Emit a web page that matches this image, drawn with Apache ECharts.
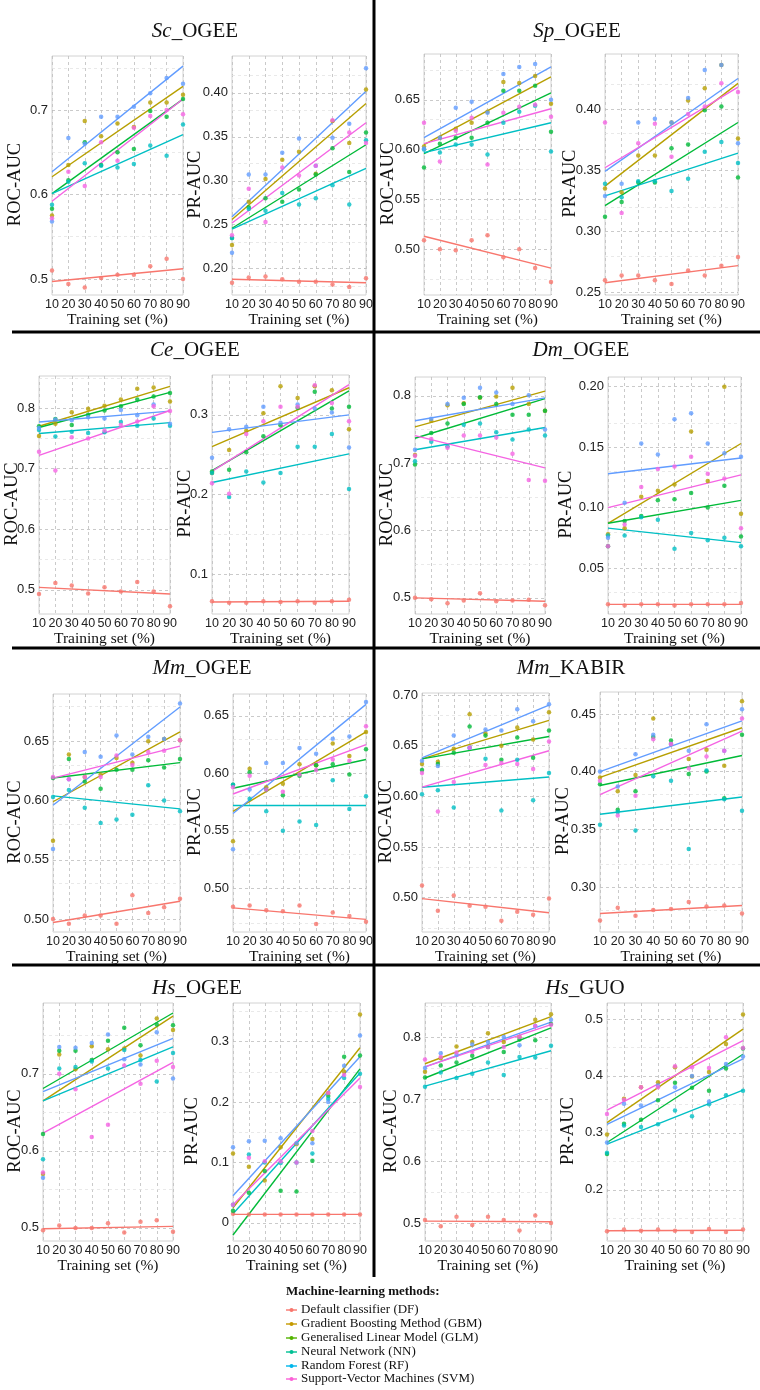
<!DOCTYPE html>
<html><head><meta charset="utf-8">
<script src="https://cdn.jsdelivr.net/npm/echarts@6/dist/echarts.min.js"></script>
<style>html,body{margin:0;padding:0;background:#fff}#c{width:760px;height:1390px}</style>
</head><body><div id="c"></div>
<script>
const xValues = [10, 20, 30, 40, 50, 60, 70, 80, 90];
const methods = ['Default classifier (DF)', 'Gradient Boosting Method (GBM)', 'Generalised Linear Model (GLM)', 'Neural Network (NN)', 'Random Forest (RF)', 'Support-Vector Machines (SVM)'];
const seriesColors = ['#F8766D', '#B79F00', '#00BA38', '#00BFC4', '#619CFF', '#F564E3'];
const legendColors = ['#F8766D', '#C49A00', '#53B400', '#00C094', '#00B6EB', '#FB61D7'];

// rows: DF, GBM, GLM, NN, RF, SVM ; fits: value at 10 and at 90
const sc_roc = [
  [0.510, 0.494, 0.490, 0.501, 0.505, 0.505, 0.515, 0.524, 0.500],
  [0.575, 0.635, 0.687, 0.669, 0.684, 0.680, 0.709, 0.709, 0.718],
  [0.583, 0.617, 0.662, 0.635, 0.650, 0.654, 0.699, 0.692, 0.713],
  [0.588, 0.615, 0.637, 0.634, 0.632, 0.636, 0.658, 0.646, 0.683],
  [0.568, 0.667, 0.660, 0.692, 0.692, 0.704, 0.720, 0.738, 0.731],
  [0.572, 0.627, 0.610, 0.662, 0.640, 0.679, 0.693, 0.700, 0.695]];
const sc_roc_fit = [[0.497, 0.512], [0.621, 0.728], [0.601, 0.713], [0.601, 0.671], [0.627, 0.752], [0.592, 0.713]];
const sc_roc_ticks = ['0.5', '0.6', '0.7'];

const sc_pr = [
  [0.184, 0.190, 0.191, 0.188, 0.185, 0.185, 0.182, 0.179, 0.189],
  [0.227, 0.276, 0.302, 0.324, 0.333, 0.308, 0.368, 0.343, 0.404],
  [0.235, 0.270, 0.280, 0.276, 0.290, 0.307, 0.337, 0.310, 0.355],
  [0.235, 0.268, 0.266, 0.286, 0.273, 0.280, 0.295, 0.273, 0.346],
  [0.218, 0.307, 0.307, 0.332, 0.348, 0.317, 0.349, 0.365, 0.428],
  [0.238, 0.291, 0.253, 0.315, 0.306, 0.317, 0.369, 0.355, 0.343]];
const sc_pr_fit = [[0.188, 0.184], [0.256, 0.388], [0.246, 0.341], [0.245, 0.314], [0.259, 0.402], [0.252, 0.366]];
const sc_pr_ticks = ['0.20', '0.25', '0.30', '0.35', '0.40'];

const sp_roc = [
  [0.509, 0.500, 0.499, 0.509, 0.514, 0.492, 0.500, 0.481, 0.467],
  [0.603, 0.612, 0.621, 0.627, 0.638, 0.668, 0.667, 0.674, 0.646],
  [0.582, 0.606, 0.612, 0.612, 0.627, 0.659, 0.659, 0.664, 0.618],
  [0.600, 0.597, 0.605, 0.605, 0.595, 0.627, 0.638, 0.644, 0.598],
  [0.601, 0.612, 0.642, 0.648, 0.637, 0.676, 0.683, 0.686, 0.650],
  [0.627, 0.588, 0.619, 0.632, 0.585, 0.637, 0.643, 0.645, 0.633]];
const sp_roc_fit = [[0.513, 0.481], [0.605, 0.673], [0.596, 0.657], [0.597, 0.627], [0.612, 0.683], [0.606, 0.641]];
const sp_roc_ticks = ['0.50', '0.55', '0.60', '0.65'];

const sp_pr = [
  [0.260, 0.264, 0.264, 0.260, 0.257, 0.268, 0.264, 0.272, 0.279],
  [0.335, 0.332, 0.362, 0.362, 0.389, 0.407, 0.417, 0.436, 0.376],
  [0.312, 0.324, 0.340, 0.340, 0.368, 0.371, 0.399, 0.402, 0.344],
  [0.339, 0.328, 0.341, 0.341, 0.333, 0.343, 0.365, 0.373, 0.356],
  [0.329, 0.339, 0.389, 0.392, 0.389, 0.409, 0.432, 0.436, 0.372],
  [0.389, 0.315, 0.372, 0.388, 0.361, 0.396, 0.402, 0.421, 0.414]];
const sp_pr_fit = [[0.258, 0.272], [0.337, 0.421], [0.321, 0.389], [0.329, 0.364], [0.349, 0.425], [0.352, 0.418]];
const sp_pr_ticks = ['0.25', '0.30', '0.35', '0.40'];

const ce_roc = [
  [0.493, 0.511, 0.507, 0.494, 0.504, 0.497, 0.513, 0.497, 0.473],
  [0.754, 0.774, 0.793, 0.799, 0.804, 0.814, 0.832, 0.834, 0.811],
  [0.770, 0.782, 0.772, 0.789, 0.796, 0.803, 0.814, 0.819, 0.825],
  [0.764, 0.753, 0.761, 0.759, 0.760, 0.777, 0.771, 0.783, 0.771],
  [0.767, 0.781, 0.780, 0.785, 0.783, 0.797, 0.788, 0.806, 0.774],
  [0.728, 0.697, 0.752, 0.750, 0.763, 0.772, 0.778, 0.803, 0.795]];
const ce_roc_fit = [[0.504, 0.493], [0.770, 0.836], [0.768, 0.826], [0.758, 0.776], [0.777, 0.795], [0.722, 0.796]];
const ce_roc_ticks = ['0.5', '0.6', '0.7', '0.8'];

const ce_pr = [
  [0.066, 0.064, 0.064, 0.066, 0.065, 0.066, 0.064, 0.066, 0.068],
  [0.227, 0.256, 0.280, 0.302, 0.336, 0.321, 0.336, 0.331, 0.282],
  [0.229, 0.231, 0.253, 0.273, 0.287, 0.309, 0.329, 0.308, 0.310],
  [0.227, 0.197, 0.229, 0.215, 0.227, 0.260, 0.260, 0.276, 0.207],
  [0.246, 0.282, 0.285, 0.310, 0.290, 0.313, 0.308, 0.303, 0.259],
  [0.214, 0.201, 0.276, 0.292, 0.310, 0.310, 0.337, 0.315, 0.292]];
const ce_pr_fit = [[0.065, 0.066], [0.260, 0.334], [0.230, 0.330], [0.215, 0.251], [0.278, 0.300], [0.229, 0.338]];
const ce_pr_ticks = ['0.1', '0.2', '0.3'];

const dm_roc = [
  [0.500, 0.498, 0.492, 0.496, 0.507, 0.495, 0.496, 0.497, 0.489],
  [0.712, 0.763, 0.786, 0.789, 0.797, 0.799, 0.812, 0.788, 0.778],
  [0.698, 0.745, 0.759, 0.788, 0.798, 0.788, 0.772, 0.772, 0.778],
  [0.703, 0.732, 0.725, 0.757, 0.759, 0.746, 0.735, 0.750, 0.741],
  [0.720, 0.766, 0.788, 0.797, 0.812, 0.805, 0.788, 0.801, 0.750],
  [0.711, 0.736, 0.723, 0.741, 0.741, 0.738, 0.714, 0.675, 0.674]];
const dm_roc_fit = [[0.500, 0.495], [0.754, 0.807], [0.737, 0.796], [0.720, 0.753], [0.763, 0.797], [0.741, 0.693]];
const dm_roc_ticks = ['0.5', '0.6', '0.7', '0.8'];

const dm_pr = [
  [0.020, 0.019, 0.020, 0.020, 0.019, 0.020, 0.020, 0.020, 0.021],
  [0.078, 0.083, 0.109, 0.114, 0.119, 0.163, 0.122, 0.200, 0.095],
  [0.068, 0.089, 0.093, 0.106, 0.107, 0.112, 0.100, 0.118, 0.076],
  [0.077, 0.077, 0.092, 0.090, 0.066, 0.079, 0.073, 0.075, 0.068],
  [0.075, 0.104, 0.153, 0.144, 0.173, 0.178, 0.153, 0.145, 0.142],
  [0.068, 0.086, 0.117, 0.132, 0.134, 0.142, 0.128, 0.124, 0.083]];
const dm_pr_fit = [[0.020, 0.020], [0.087, 0.153], [0.087, 0.106], [0.083, 0.071], [0.128, 0.141], [0.100, 0.127]];
const dm_pr_ticks = ['0.05', '0.10', '0.15', '0.20'];

const mm_roc = [
  [0.500, 0.496, 0.503, 0.503, 0.496, 0.520, 0.505, 0.510, 0.517],
  [0.566, 0.639, 0.620, 0.622, 0.636, 0.632, 0.650, 0.652, 0.651],
  [0.619, 0.635, 0.616, 0.610, 0.626, 0.626, 0.634, 0.628, 0.635],
  [0.603, 0.609, 0.594, 0.581, 0.584, 0.588, 0.613, 0.600, 0.591],
  [0.559, 0.618, 0.641, 0.637, 0.655, 0.639, 0.654, 0.652, 0.682],
  [0.620, 0.618, 0.620, 0.620, 0.638, 0.630, 0.641, 0.642, 0.651]];
const mm_roc_fit = [[0.497, 0.515], [0.599, 0.658], [0.619, 0.632], [0.604, 0.593], [0.596, 0.679], [0.619, 0.646]];
const mm_roc_ticks = ['0.50', '0.55', '0.60', '0.65'];

const mm_pr = [
  [0.484, 0.485, 0.481, 0.480, 0.485, 0.469, 0.479, 0.476, 0.471],
  [0.541, 0.604, 0.588, 0.591, 0.608, 0.607, 0.626, 0.615, 0.636],
  [0.590, 0.601, 0.586, 0.581, 0.598, 0.607, 0.608, 0.599, 0.621],
  [0.590, 0.578, 0.567, 0.550, 0.558, 0.555, 0.594, 0.569, 0.580],
  [0.534, 0.586, 0.609, 0.609, 0.622, 0.617, 0.630, 0.632, 0.662],
  [0.588, 0.598, 0.586, 0.584, 0.599, 0.603, 0.612, 0.611, 0.641]];
const mm_pr_fit = [[0.483, 0.473], [0.567, 0.636], [0.587, 0.612], [0.572, 0.572], [0.565, 0.660], [0.582, 0.625]];
const mm_pr_ticks = ['0.50', '0.55', '0.60', '0.65'];

const mk_roc = [
  [0.512, 0.487, 0.502, 0.492, 0.491, 0.477, 0.486, 0.483, 0.499],
  [0.632, 0.634, 0.647, 0.681, 0.662, 0.650, 0.668, 0.656, 0.683],
  [0.626, 0.632, 0.643, 0.669, 0.660, 0.636, 0.658, 0.638, 0.665],
  [0.602, 0.606, 0.589, 0.648, 0.637, 0.586, 0.636, 0.596, 0.623],
  [0.635, 0.630, 0.660, 0.648, 0.666, 0.665, 0.686, 0.674, 0.691],
  [0.623, 0.585, 0.614, 0.648, 0.631, 0.633, 0.632, 0.627, 0.654]];
const mk_roc_fit = [[0.499, 0.485], [0.637, 0.675], [0.637, 0.659], [0.609, 0.619], [0.638, 0.690], [0.609, 0.645]];
const mk_roc_ticks = ['0.50', '0.55', '0.60', '0.65', '0.70'];

const mk_pr = [
  [0.271, 0.282, 0.275, 0.280, 0.281, 0.287, 0.283, 0.284, 0.277],
  [0.395, 0.383, 0.397, 0.446, 0.424, 0.411, 0.419, 0.405, 0.461],
  [0.389, 0.367, 0.383, 0.430, 0.427, 0.398, 0.400, 0.377, 0.432],
  [0.354, 0.365, 0.349, 0.396, 0.392, 0.333, 0.401, 0.376, 0.366],
  [0.400, 0.387, 0.415, 0.432, 0.424, 0.418, 0.441, 0.418, 0.454],
  [0.392, 0.362, 0.379, 0.428, 0.424, 0.403, 0.413, 0.418, 0.446]];
const mk_pr_fit = [[0.277, 0.284], [0.395, 0.438], [0.388, 0.414], [0.363, 0.378], [0.400, 0.444], [0.380, 0.435]];
const mk_pr_ticks = ['0.30', '0.35', '0.40', '0.45'];

const hs_roc = [
  [0.497, 0.503, 0.500, 0.500, 0.506, 0.494, 0.508, 0.510, 0.495],
  [0.570, 0.725, 0.706, 0.736, 0.732, 0.733, 0.724, 0.772, 0.757],
  [0.622, 0.730, 0.730, 0.718, 0.743, 0.760, 0.737, 0.764, 0.763],
  [0.589, 0.707, 0.709, 0.716, 0.707, 0.731, 0.718, 0.690, 0.727],
  [0.565, 0.735, 0.734, 0.740, 0.751, 0.719, 0.712, 0.754, 0.694],
  [0.572, 0.700, 0.680, 0.618, 0.634, 0.711, 0.687, 0.717, 0.709]];
const hs_roc_fit = [[0.499, 0.502], [0.665, 0.775], [0.681, 0.779], [0.665, 0.735], [0.677, 0.746], [0.623, 0.715]];
const hs_roc_ticks = ['0.5', '0.6', '0.7'];

const hs_pr = [
  [0.015, 0.014, 0.014, 0.014, 0.014, 0.014, 0.014, 0.014, 0.014],
  [0.115, 0.093, 0.070, 0.125, 0.130, 0.139, 0.215, 0.250, 0.345],
  [0.020, 0.050, 0.086, 0.053, 0.052, 0.103, 0.210, 0.275, 0.277],
  [0.030, 0.113, 0.100, 0.099, 0.100, 0.115, 0.205, 0.240, 0.247],
  [0.125, 0.135, 0.136, 0.140, 0.132, 0.132, 0.200, 0.260, 0.310],
  [0.030, 0.108, 0.102, 0.102, 0.100, 0.152, 0.215, 0.245, 0.225]];
const hs_pr_fit = [[0.014, 0.014], [0.025, 0.290], [-0.020, 0.255], [0.015, 0.248], [0.045, 0.275], [0.030, 0.240]];
const hs_pr_ticks = ['0', '0.1', '0.2', '0.3'];

const hg_roc = [
  [0.505, 0.495, 0.510, 0.497, 0.510, 0.505, 0.488, 0.512, 0.500],
  [0.744, 0.766, 0.785, 0.792, 0.806, 0.792, 0.800, 0.828, 0.837],
  [0.735, 0.754, 0.759, 0.770, 0.784, 0.776, 0.796, 0.795, 0.821],
  [0.720, 0.743, 0.734, 0.741, 0.759, 0.739, 0.768, 0.767, 0.786],
  [0.750, 0.774, 0.771, 0.788, 0.792, 0.800, 0.787, 0.818, 0.828],
  [0.764, 0.768, 0.775, 0.776, 0.784, 0.784, 0.800, 0.818, 0.820]];
const hg_roc_fit = [[0.503, 0.502], [0.757, 0.833], [0.734, 0.815], [0.721, 0.778], [0.752, 0.824], [0.752, 0.820]];
const hg_roc_ticks = ['0.5', '0.6', '0.7', '0.8'];

const hg_pr = [
  [0.127, 0.130, 0.128, 0.130, 0.128, 0.126, 0.131, 0.126, 0.130],
  [0.297, 0.360, 0.380, 0.389, 0.415, 0.399, 0.407, 0.456, 0.508],
  [0.263, 0.316, 0.323, 0.357, 0.388, 0.379, 0.374, 0.413, 0.448],
  [0.265, 0.313, 0.310, 0.315, 0.339, 0.329, 0.350, 0.366, 0.374],
  [0.283, 0.351, 0.348, 0.383, 0.380, 0.400, 0.355, 0.421, 0.434],
  [0.333, 0.358, 0.380, 0.380, 0.417, 0.415, 0.414, 0.468, 0.449]];
const hg_pr_fit = [[0.128, 0.129], [0.318, 0.482], [0.283, 0.438], [0.280, 0.375], [0.315, 0.430], [0.340, 0.462]];
const hg_pr_ticks = ['0.2', '0.3', '0.4', '0.5'];

const datasetTitles = [['Sc', '_OGEE'], ['Sp', '_OGEE'], ['Ce', '_OGEE'], ['Dm', '_OGEE'], ['Mm', '_OGEE'], ['Mm', '_KABIR'], ['Hs', '_OGEE'], ['Hs', '_GUO']];

// ---------- layout (pixels) ----------
const panels = [
  {d: sc_roc, f: sc_roc_fit, t: sc_roc_ticks, yr: [0.481, 0.764], box: [52, 56, 183, 295], name: 'ROC-AUC', nx: 15},
  {d: sc_pr, f: sc_pr_fit, t: sc_pr_ticks, yr: [0.170, 0.442], box: [232, 56, 366, 295], name: 'PR-AUC', nx: 195},
  {d: sp_roc, f: sp_roc_fit, t: sp_roc_ticks, yr: [0.454, 0.696], box: [424, 54, 551, 295], name: 'ROC-AUC', nx: 388},
  {d: sp_pr, f: sp_pr_fit, t: sp_pr_ticks, yr: [0.248, 0.445], box: [605, 54, 738, 295], name: 'PR-AUC', nx: 570},
  {d: ce_roc, f: ce_roc_fit, t: ce_roc_ticks, yr: [0.460, 0.853], box: [39, 376, 170, 614], name: 'ROC-AUC', nx: 12},
  {d: ce_pr, f: ce_pr_fit, t: ce_pr_ticks, yr: [0.050, 0.350], box: [212, 375, 349, 614], name: 'PR-AUC', nx: 185},
  {d: dm_roc, f: dm_roc_fit, t: dm_roc_ticks, yr: [0.476, 0.828], box: [415, 377, 545, 614], name: 'ROC-AUC', nx: 387},
  {d: dm_pr, f: dm_pr_fit, t: dm_pr_ticks, yr: [0.012, 0.208], box: [608, 377, 741, 614], name: 'PR-AUC', nx: 566},
  {d: mm_roc, f: mm_roc_fit, t: mm_roc_ticks, yr: [0.489, 0.690], box: [53, 694, 180, 932], name: 'ROC-AUC', nx: 15},
  {d: mm_pr, f: mm_pr_fit, t: mm_pr_ticks, yr: [0.462, 0.669], box: [233, 694, 366, 932], name: 'PR-AUC', nx: 195},
  {d: mk_roc, f: mk_roc_fit, t: mk_roc_ticks, yr: [0.466, 0.702], box: [422, 693, 549, 932], name: 'ROC-AUC', nx: 386},
  {d: mk_pr, f: mk_pr_fit, t: mk_pr_ticks, yr: [0.261, 0.469], box: [600, 692, 742, 932], name: 'PR-AUC', nx: 563},
  {d: hs_roc, f: hs_roc_fit, t: hs_roc_ticks, yr: [0.483, 0.792], box: [43, 1003, 173, 1241], name: 'ROC-AUC', nx: 15},
  {d: hs_pr, f: hs_pr_fit, t: hs_pr_ticks, yr: [-0.030, 0.364], box: [233, 1003, 360, 1241], name: 'PR-AUC', nx: 192},
  {d: hg_roc, f: hg_roc_fit, t: hg_roc_ticks, yr: [0.471, 0.855], box: [425, 1003, 551, 1241], name: 'ROC-AUC', nx: 391},
  {d: hg_pr, f: hg_pr_fit, t: hg_pr_ticks, yr: [0.110, 0.528], box: [607, 1003, 743, 1241], name: 'PR-AUC', nx: 568}
];
const titlePos = [[195, 31], [577, 31], [195, 350], [581, 350], [202, 668], [571, 668], [197, 988], [585, 988]];

const SERIF = '"Liberation Serif", "Times New Roman", serif';
const SANS = '"Liberation Sans", Arial, sans-serif';

const grid = [], xAxis = [], yAxis = [], series = [], graphic = [];

panels.forEach((p, i) => {
  const [x0, y0, x1, y1] = p.box;
  const tickVals = p.t.map(Number);
  const step = tickVals[1] - tickVals[0];
  const minors = [];
  for (let k = -1; k < tickVals.length; k++) {
    const v = tickVals[0] + (k + 0.5) * step;
    if (v > p.yr[0] && v < p.yr[1]) minors.push(v);
  }
  grid.push({left: x0, top: y0, width: x1 - x0, height: y1 - y0, show: true,
    backgroundColor: '#fff', borderColor: '#d2d2d2', borderWidth: 1});
  xAxis.push({gridIndex: i, type: 'value', min: 10, max: 90, interval: 10,
    axisLine: {show: false}, axisTick: {show: false},
    axisLabel: {fontSize: 12.5, color: '#222', margin: 3, fontFamily: SANS, hideOverlap: false},
    splitLine: {show: true, lineStyle: {color: '#bdbdbd', type: [3, 3], width: 0.8}},
    name: 'Training set (%)', nameLocation: 'middle', nameGap: 17,
    nameTextStyle: {fontFamily: SERIF, fontSize: 15.5, color: '#111'}});
  yAxis.push({gridIndex: i, type: 'value', min: p.yr[0], max: p.yr[1],
    axisLine: {show: false}, axisTick: {show: false}, splitLine: {show: false},
    axisLabel: {customValues: tickVals, fontSize: 13, color: '#222', margin: 4, fontFamily: SANS,
      formatter: v => { const k = tickVals.findIndex(t => Math.abs(t - v) < 1e-9); return k >= 0 ? p.t[k] : ''; }}});
  p.d.forEach((vals, m) => {
    series.push({type: 'line', xAxisIndex: i, yAxisIndex: i, silent: true, z: 2,
      data: [[10, p.f[m][0]], [90, p.f[m][1]]], showSymbol: false, symbol: 'none',
      lineStyle: {color: seriesColors[m], width: 1.4}, itemStyle: {color: seriesColors[m]},
      markLine: m === 0 ? {silent: true, z: 1, symbol: ['none', 'none'], label: {show: false}, animation: false,
        data: tickVals.map(v => ({yAxis: v, lineStyle: {color: '#bdbdbd', type: [3, 3], width: 0.8}}))
          .concat(minors.map(v => ({yAxis: v, lineStyle: {color: '#e4e4e4', type: [3, 3], width: 0.8}})))} : undefined});
    series.push({type: 'scatter', xAxisIndex: i, yAxisIndex: i, silent: true, z: 3,
      data: xValues.map((x, j) => [x, vals[j]]), symbolSize: 4.5,
      itemStyle: {color: seriesColors[m]}});
  });
  graphic.push({type: 'text', x: p.nx, y: (y0 + y1) / 2 + 9, rotation: Math.PI / 2,
    style: {text: p.name, font: '18.5px ' + SERIF, fill: '#111', textAlign: 'center', textVerticalAlign: 'middle'}});
});

datasetTitles.forEach((t, i) => {
  graphic.push({type: 'text', x: titlePos[i][0], y: titlePos[i][1],
    style: {text: '{it|' + t[0] + '}' + t[1], font: '21px ' + SERIF, fill: '#111',
      textAlign: 'center', textVerticalAlign: 'middle',
      rich: {it: {fontStyle: 'italic', fontSize: 21, fontFamily: SERIF, fill: '#111'}}}});
});

// separators
[332, 648, 965].forEach(y => graphic.push({type: 'line', shape: {x1: 12, y1: y, x2: 760, y2: y}, style: {stroke: '#000', lineWidth: 3}}));
graphic.push({type: 'line', shape: {x1: 374, y1: 0, x2: 374, y2: 1277}, style: {stroke: '#000', lineWidth: 3}});

// legend
graphic.push({type: 'text', x: 286, y: 1292, style: {text: 'Machine-learning methods:', font: 'bold 13px ' + SERIF, fill: '#111', textVerticalAlign: 'middle'}});
const legendY = [1310, 1324, 1338, 1352, 1366, 1379];
methods.forEach((m, k) => {
  graphic.push({type: 'line', shape: {x1: 286, y1: legendY[k], x2: 297, y2: legendY[k]}, style: {stroke: legendColors[k], lineWidth: 1.4}});
  graphic.push({type: 'circle', shape: {cx: 291.5, cy: legendY[k], r: 2}, style: {fill: legendColors[k]}});
  graphic.push({type: 'text', x: 301, y: legendY[k], style: {text: m, font: '13px ' + SERIF, fill: '#111', textVerticalAlign: 'middle'}});
});

const chart = echarts.init(document.getElementById('c'), null, {renderer: 'canvas'});
chart.setOption({animation: false, backgroundColor: '#fff', grid, xAxis, yAxis, series, graphic});
</script>
</body></html>
